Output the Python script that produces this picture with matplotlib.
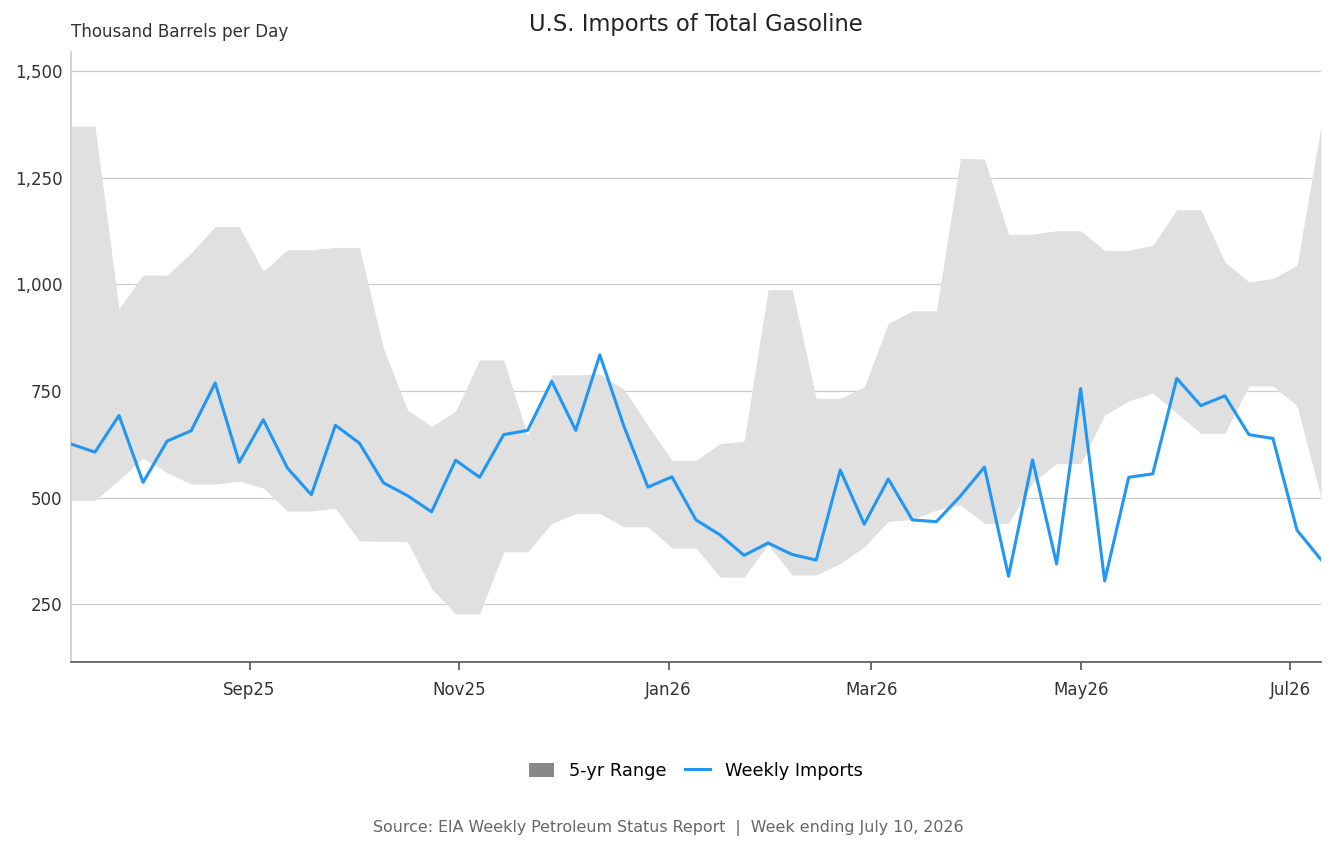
import numpy as np
import pandas as pd
import matplotlib
matplotlib.use("Agg")
import matplotlib.pyplot as plt
import matplotlib.dates as mdates
from matplotlib.patches import Patch
from matplotlib.lines import Line2D
from matplotlib.ticker import FuncFormatter

# weekly dates, week ending Fridays
dates = pd.date_range("2025-07-11", "2026-07-10", freq="7D")

weekly_imports = [626, 607, 693, 536, 633, 657, 769, 583, 683, 570,
                  507, 670, 628, 535, 505, 467, 588, 548, 648, 658,
                  773, 658, 835, 668, 525, 549, 448, 413, 365, 394,
                  367, 354, 565, 438, 544, 448, 444, 504, 572, 316,
                  589, 345, 756, 305, 548, 556, 780, 716, 739, 648,
                  639, 424, 355]

range_high = [1371, 1371, 944, 1022, 1022, 1074, 1136, 1136, 1031, 1081,
              1081, 1087, 1087, 850, 706, 667, 703, 823, 823, 645,
              788, 788, 790, 755, 669, 588, 588, 627, 633, 988,
              988, 733, 733, 760, 909, 938, 938, 1296, 1294, 1118,
              1118, 1126, 1126, 1080, 1080, 1092, 1175, 1175, 1053, 1006,
              1014, 1045, 1371]

range_low = [494, 494, 542, 593, 559, 532, 532, 539, 523, 469,
             469, 475, 399, 398, 397, 287, 228, 228, 373, 373,
             440, 463, 463, 432, 432, 382, 382, 314, 314, 390,
             319, 319, 346, 385, 445, 449, 471, 483, 440, 440,
             535, 580, 580, 694, 727, 745, 698, 651, 651, 762,
             762, 716, 500]

fig = plt.figure(figsize=(13.36, 8.52), dpi=100)
ax = fig.add_axes([0.0531, 0.223, 0.9357, 0.716])

ax.fill_between(dates, range_low, range_high, color="#e0e0e0", linewidth=0, zorder=1)
ax.plot(dates, weekly_imports, color="#2196f3", linewidth=2.2, zorder=3)

ax.set_xlim(dates[0], dates[-1])
ax.set_ylim(115, 1545)
ax.set_yticks([250, 500, 750, 1000, 1250, 1500])
ax.yaxis.set_major_formatter(FuncFormatter(lambda v, p: f"{int(v):,}"))
ax.xaxis.set_major_locator(mdates.MonthLocator(bymonth=[1, 3, 5, 7, 9, 11]))
ax.xaxis.set_major_formatter(mdates.DateFormatter("%b%y"))

ax.grid(axis="y", color="#cccccc", linewidth=0.9, zorder=0)
ax.set_axisbelow(True)
for s in ["top", "right"]:
    ax.spines[s].set_visible(False)
ax.spines["left"].set_color("#cccccc")
ax.spines["left"].set_linewidth(1.2)
ax.spines["bottom"].set_color("#555555")
ax.spines["bottom"].set_linewidth(1.2)
ax.tick_params(axis="y", length=0, labelsize=12, labelcolor="#333333", pad=6)
ax.tick_params(axis="x", length=6, width=1.2, color="#555555", labelsize=12,
               labelcolor="#333333", pad=8)

# title sits over the axes centre
ax.set_title("U.S. Imports of Total Gasoline", fontsize=16.3, color="#222222", pad=15)
fig.text(0.0531, 0.963, "Thousand Barrels per Day", ha="left", va="center",
         fontsize=12.1, color="#333333")

# legend centred under the axes, not the figure
handles = [Patch(facecolor="#888888", edgecolor="none", label="5-yr Range"),
           Line2D([0], [0], color="#2196f3", linewidth=2.2, label="Weekly Imports")]
fig.legend(handles=handles, loc="center", bbox_to_anchor=(0.521, 0.095), ncol=2,
           frameon=False, fontsize=12.8, handlelength=1.4, handleheight=0.85,
           columnspacing=1.0, handletextpad=0.85)

fig.text(0.5, 0.028, "Source: EIA Weekly Petroleum Status Report  |  Week ending July 10, 2026",
         ha="center", va="center", fontsize=11.4, color="#666666")

fig.savefig("out.png", dpi=100)
